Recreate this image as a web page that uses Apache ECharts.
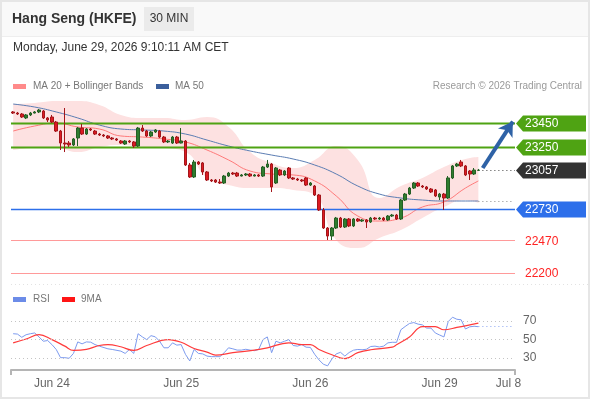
<!DOCTYPE html>
<html><head><meta charset="utf-8">
<script src="https://cdn.jsdelivr.net/npm/echarts@6/dist/echarts.min.js"></script>
<style>html,body{margin:0;padding:0;background:#fff}#c{width:590px;height:400px}</style>
</head><body><div id="c"></div>
<script>
// ---- data ----
// candles: [open, close, low, high], one per 30-min bar
const candles = [
[23542,23533,23525,23550],[23533,23525,23517,23542],[23525,23500,23492,23533],[23492,23517,23483,23525],
[23517,23533,23508,23542],[23533,23542,23530,23550],[23542,23558,23533,23567],[23550,23492,23483,23558],
[23492,23475,23458,23500],[23500,23458,23450,23517],[23458,23383,23375,23467],[23383,23283,23225,23392],
[23283,23275,23208,23575],[23283,23267,23250,23300],[23267,23317,23258,23325],[23325,23408,23258,23417],
[23408,23358,23350,23442],[23358,23400,23350,23408],[23400,23392,23383,23408],[23383,23358,23350,23392],
[23358,23350,23342,23367],[23350,23342,23333,23358],[23342,23325,23317,23350],[23325,23317,23308,23333],
[23317,23308,23300,23325],[23300,23283,23275,23308],[23275,23300,23267,23308],[23300,23292,23283,23308],
[23292,23258,23242,23300],[23258,23408,23250,23417],[23408,23383,23375,23433],[23383,23342,23333,23392],
[23342,23375,23333,23383],[23375,23392,23367,23400],[23383,23333,23325,23392],[23333,23292,23283,23342],
[23292,23300,23283,23308],[23283,23333,23275,23342],[23333,23283,23275,23342],[23283,23300,23280,23408],
[23300,23100,23092,23308],[23100,23000,22992,23117],[23000,23125,22992,23142],[23125,23108,23100,23133],
[23117,23042,23017,23125],[23042,22975,22967,23050],[22975,22967,22958,22983],[22975,22958,22950,22983],
[22958,22950,22942,22983],[22950,23008,22942,23017],[23008,23033,23000,23042],[23033,23025,23017,23042],
[23033,23008,23000,23042],[23008,23017,23005,23025],[23017,23025,23008,23033],[23025,23008,23000,23033],
[23008,23017,23005,23025],[23017,23008,23000,23025],[23008,23083,23000,23092],[23083,23108,23075,23142],
[23108,22917,22875,23117],[22950,23075,22942,23083],[23058,23017,23008,23067],[23017,23050,23008,23058],
[23075,22992,22983,23083],[22992,22983,22975,23000],[22983,22975,22967,22992],[22975,22967,22958,22983],
[22992,22933,22925,23000],[22933,22950,22925,22958],[22925,22850,22842,22933],[22850,22725,22717,22858],
[22725,22575,22567,22742],[22575,22508,22475,22583],[22508,22575,22467,22583],[22575,22658,22567,22667],
[22658,22583,22575,22667],[22583,22650,22575,22658],[22650,22592,22583,22658],[22592,22650,22583,22658],
[22650,22633,22625,22658],[22633,22642,22625,22650],[22642,22625,22575,22650],[22625,22658,22617,22667],
[22658,22650,22642,22667],[22650,22658,22642,22667],[22658,22642,22633,22667],[22642,22675,22633,22683],
[22675,22683,22667,22692],[22683,22650,22642,22692],[22650,22808,22642,22817],[22808,22858,22800,22867],
[22858,22908,22850,22917],[22908,22950,22900,22958],[22950,22925,22917,22958],[22925,22917,22908,22933],
[22917,22900,22892,22925],[22900,22875,22867,22908],[22892,22842,22833,22900],[22833,22858,22808,22867],
[22858,22825,22725,22867],[22825,22992,22817,23008],[22992,23092,22983,23100],[23092,23108,23083,23117],
[23125,23092,23083,23142],[23092,23017,23008,23100],[23050,23025,22975,23058],[23025,23058,23017,23075],
[23055,23057,23050,23067]
];
// indicator lines read at these bar indices
const lineIdx = [0,5,10,15,20,25,30,35,40,45,50,55,60,65,70,75,80,85,90,95,100,105,108];
const ma20    = [23383,23425,23450,23417,23400,23342,23333,23317,23292,23225,23142,23050,23025,23017,22967,22842,22675,22633,22658,22750,22792,22908,22967];
const bbUpper = [23608,23617,23633,23633,23600,23517,23492,23492,23475,23500,23417,23208,23117,23075,23142,23258,23142,22825,22925,22992,23083,23150,23167];
const bbLower = [23225,23242,23242,23208,23250,23267,23250,23242,23208,22992,22933,22908,22908,22892,22850,22475,22408,22492,22558,22658,22750,22808,22783];
const ma50    = [23608,23583,23542,23492,23433,23400,23392,23383,23358,23308,23258,23217,23183,23150,23100,23025,22925,22858,22825,22808,22800,22800,22800];

const rsiIdx = [0,1,2,3,4,5,6,7,8,9,10,11,12,13,14,15,16,17,18,19,20,22,23,25,26,27,28,29,30,31,32,33,34,35,36,37,38,39,40,41,42,43,44,45,46,47,48,49,50,51,52,53,54,55,56,57,58,59,60,61,62,63,64,65,66,67,68,69,70,71,72,73,74,75,76,77,78,79,80,81,82,83,84,85,86,87,88,89,90,91,92,93,94,95,96,97,98,99,100,101,102,103,104,105,106,107,108];
const rsiVal = [56.4,56,52.5,55.3,56.4,57.2,52.9,48.2,49,44.6,39.3,30.4,30.4,29.7,35,47.5,45.4,47.5,47.2,44.6,42.9,40,39.3,37.5,35,39.3,35,56.4,52.9,50,54.3,53,48.2,41.1,41.1,46.5,44,44.6,34,26.8,39.3,35,34.5,32.1,31.5,31.5,31.5,35.8,41.1,40,38.6,38.6,39.5,38.6,38,39.3,50,52.9,35.8,48.2,46.5,48.2,50,43.6,42.9,44.6,41.8,41.5,34,28,23.3,21.5,29,34.5,36.2,32.1,36,38.5,39.3,39,39.5,42.5,42.9,42,42.9,46.5,47.1,47,60.7,64.2,67.5,68.5,66.8,66,62.5,62.5,57.2,55,52.9,69.6,74.3,72.1,71.5,61.5,63.9,64.5,64];
const rsiMaIdx = [0,3,6,9,12,14,17,20,22,25,28,31,36,39,42,45,47,51,56,59,64,67,69,71,74,77,80,83,88,89,92,95,98,100,103,108];
const rsiMaVal = [46.5,50.7,55.3,50,42.9,38.2,39.3,43.6,44.6,42.2,38.2,43.6,50,47.1,40.4,36.4,33.2,35.8,38.6,41.1,46.5,44.6,44.6,39.3,33.6,29.4,35.8,39,41.8,44.3,52.9,64.2,64.2,60.7,63.2,67.9];

const levelValues = [23450, 23250, 23057, 22730, 22470, 22200];
const levelKinds  = ['res', 'res', 'last', 'sup', 'piv', 'piv'];
const targetValue = 23450;
const rsiLevels = [70, 50, 30];
const tickIndex  = [9, 39, 69, 99, 115];
const tickLabels = ['Jun 24', 'Jun 25', 'Jun 26', 'Jun 29', 'Jul 8'];
const slotCount = 117;

// ---- build ----
const lastIndex = candles.length - 1;
const cats = Array.from({length: slotCount}, (_, i) => 'b' + i);
const pairs = (idx, vals) => idx.map((x, i) => [x, vals[i]]);
const bandWidth = lineIdx.map((x, i) => [x, bbUpper[i] - bbLower[i]]);
const FONT = '"Liberation Sans", Arial, sans-serif';
const levelColor = {res: '#4fa313', last: '#333333', sup: '#2d6fea', piv: '#ff9494'};
const pivotValues = levelValues.filter((v, i) => levelKinds[i] === 'piv');

function renderLevel(params, api) {
  const v = api.value(1);
  const k = levelKinds[params.dataIndex];
  const cs = params.coordSys;
  const y = Math.round(api.coord([0, v])[1]) + 0.5;
  const x1 = cs.x, x2 = cs.x + cs.width;
  const col = levelColor[k];
  const ch = [];
  if (k === 'last') {
    const lx = api.coord([lastIndex, v])[0] + 4;
    ch.push({type: 'line', shape: {x1: lx, y1: y, x2: x2, y2: y}, style: {stroke: '#444', lineWidth: 1, lineDash: [1, 3]}});
  } else if (k !== 'piv') {
    ch.push({type: 'line', shape: {x1: x1, y1: y, x2: x2, y2: y},
      style: {stroke: col, lineWidth: k === 'res' ? 2 : 1.5}});
  }
  if (k !== 'piv') {
    ch.push({type: 'polygon', shape: {points: [[x2 + 1, y], [x2 + 8, y - 8], [x2 + 71, y - 8], [x2 + 71, y + 8], [x2 + 8, y + 8]]},
      style: {fill: col}});
  }
  ch.push({type: 'text', style: {text: String(v), x: x2 + 10, y: y, verticalAlign: 'middle', textVerticalAlign: 'middle',
    fill: k === 'piv' ? '#ff2323' : '#ffffff', font: '12px ' + FONT}});
  return {type: 'group', children: ch};
}

const chart = echarts.init(document.getElementById('c'), null, {renderer: 'canvas'});
chart.setOption({
  animation: false,
  backgroundColor: '#ffffff',
  textStyle: {fontFamily: FONT},
  grid: [
    {left: 11, right: 75, top: 99, height: 186},
    {left: 11, right: 75, top: 300, height: 70}
  ],
  xAxis: [
    {type: 'category', gridIndex: 0, data: cats, boundaryGap: true, show: false},
    {type: 'category', gridIndex: 1, data: cats, boundaryGap: true,
      axisLine: {lineStyle: {color: '#b5b5b5', width: 2}},
      axisTick: {show: true, interval: (i) => i === 0, length: 5, lineStyle: {color: '#b5b5b5', width: 2}},
      axisLabel: {interval: (i) => tickIndex.indexOf(i) >= 0,
        formatter: (v, i) => { const k = tickIndex.indexOf(i); return k >= 0 ? tickLabels[k] : ''; },
        color: '#666', fontSize: 12, margin: 8, fontFamily: FONT},
      splitLine: {show: false}}
  ],
  yAxis: [
    {type: 'value', gridIndex: 0, min: 22100, max: 23650, show: false},
    {type: 'value', gridIndex: 1, min: 17, max: 93, show: false}
  ],
  graphic: [
    {type: 'rect', shape: {x: 0, y: 0, width: 590, height: 36}, style: {fill: '#f9f9f9'}, z: -10},
    {type: 'line', shape: {x1: 0, y1: 36.5, x2: 590, y2: 36.5}, style: {stroke: '#eeeeee', lineWidth: 1}, z: -9},
    {type: 'rect', shape: {x: 1, y: 1, width: 588, height: 397}, style: {fill: null, stroke: '#e6e6e6', lineWidth: 2}, z: 100},
    {type: 'text', x: 12, y: 19, style: {text: 'Hang Seng (HKFE)', font: 'bold 14px ' + FONT, fill: '#333', verticalAlign: 'middle'}},
    {type: 'rect', shape: {x: 144, y: 7, width: 50, height: 24}, style: {fill: '#ebebeb'}},
    {type: 'text', x: 169, y: 19, style: {text: '30 MIN', font: '12px ' + FONT, fill: '#333', align: 'center', verticalAlign: 'middle'}},
    {type: 'text', x: 13, y: 48, style: {text: 'Monday, June 29, 2026 9:10:11 AM CET', font: '12px ' + FONT, fill: '#333', verticalAlign: 'middle'}},
    {type: 'rect', shape: {x: 13, y: 84, width: 13, height: 5}, style: {fill: '#ff8a8a'}},
    {type: 'text', x: 33, y: 86, style: {text: 'MA 20 + Bollinger Bands', font: '10px ' + FONT, fill: '#777', verticalAlign: 'middle'}},
    {type: 'rect', shape: {x: 156, y: 84, width: 13, height: 5}, style: {fill: '#3b5f9c'}},
    {type: 'text', x: 175, y: 86, style: {text: 'MA 50', font: '10px ' + FONT, fill: '#777', verticalAlign: 'middle'}},
    {type: 'text', x: 582, y: 86, style: {text: 'Research \u00a9 2026 Trading Central', font: '10px ' + FONT, fill: '#9a9a9a', align: 'right', verticalAlign: 'middle'}},
    {type: 'line', shape: {x1: 11, y1: 284.5, x2: 588, y2: 284.5}, style: {stroke: '#e2e2e2', lineWidth: 1, lineDash: [1, 3]}},
    {type: 'rect', shape: {x: 13, y: 297, width: 13, height: 5}, style: {fill: '#6c8ce8'}},
    {type: 'text', x: 33, y: 299, style: {text: 'RSI', font: '10px ' + FONT, fill: '#777', verticalAlign: 'middle'}},
    {type: 'rect', shape: {x: 62, y: 297, width: 13, height: 5}, style: {fill: '#ff1515'}},
    {type: 'text', x: 81, y: 299, style: {text: '9MA', font: '10px ' + FONT, fill: '#777', verticalAlign: 'middle'}}
  ],
  series: [
    {name: 'bbLow', type: 'line', xAxisIndex: 0, yAxisIndex: 0, data: pairs(lineIdx, bbLower), stack: 'bb',
      smooth: 0.5, symbol: 'none', lineStyle: {width: 0, opacity: 0}, silent: true, z: 1},
    {name: 'bbBand', type: 'line', xAxisIndex: 0, yAxisIndex: 0, data: bandWidth, stack: 'bb',
      smooth: 0.5, symbol: 'none', lineStyle: {width: 0, opacity: 0}, areaStyle: {color: '#fde1e1', opacity: 1}, silent: true, z: 1,
      markLine: {silent: true, symbol: 'none', label: {show: false},
        lineStyle: {color: '#ff9a9a', width: 1, type: 'solid', opacity: 1},
        emphasis: {disabled: true},
        data: pivotValues.map(v => ({yAxis: v}))}},
    {name: 'MA 50', type: 'line', xAxisIndex: 0, yAxisIndex: 0, data: pairs(lineIdx, ma50), smooth: 0.5, symbol: 'none',
      lineStyle: {color: '#5b7db3', width: 1}, z: 2,
      markLine: {silent: true, symbol: 'none', label: {show: false}, lineStyle: {color: '#8a8a8a', width: 1, type: [1, 3]},
        data: [[{coord: [lastIndex, ma50[ma50.length - 1]]}, {coord: [slotCount - 1, ma50[ma50.length - 1]]}]]}},
    {name: 'MA 20', type: 'line', xAxisIndex: 0, yAxisIndex: 0, data: pairs(lineIdx, ma20), smooth: 0.5, symbol: 'none',
      lineStyle: {color: '#ff7a7a', width: 1}, z: 2},
    {name: 'levels', type: 'custom', xAxisIndex: 0, yAxisIndex: 0, data: levelValues.map(v => [0, v]),
      encode: {x: 0, y: 1}, renderItem: renderLevel, clip: false, silent: true, z: 3},
    {name: 'HSI', type: 'candlestick', xAxisIndex: 0, yAxisIndex: 0, data: candles, barWidth: 3, z: 4,
      itemStyle: {color: '#2f7d2f', color0: '#dd1b22', borderColor: '#255f25', borderColor0: '#a3161b', borderWidth: 1},
      markLine: {silent: true, symbol: ['none', 'arrow'], symbolSize: [13, 14], label: {show: false},
        lineStyle: {color: '#2e62a6', width: 4, type: 'solid'},
        data: [[{coord: [lastIndex + 1, levelValues[2] + 18]}, {coord: [slotCount - 1, targetValue + 12]}]]}},
    {name: 'RSI', type: 'line', xAxisIndex: 1, yAxisIndex: 1, data: pairs(rsiIdx, rsiVal), symbol: 'none',
      lineStyle: {color: '#7d9bef', width: 1}, z: 3,
      markLine: {silent: true, symbol: 'none',
        data: rsiLevels.map(v => ({yAxis: v, lineStyle: {color: '#c4c4c4', width: 1, type: [1, 3]},
          label: {show: true, position: 'end', distance: 8, formatter: String(v), color: '#666', fontSize: 12, fontFamily: FONT}}))
          .concat([[{coord: [lastIndex, rsiVal[rsiVal.length - 1]], lineStyle: {color: '#8aa5f2', width: 1, type: [1, 3]}, label: {show: false}},
                    {coord: [slotCount - 1, rsiVal[rsiVal.length - 1]]}]])}},
    {name: '9MA', type: 'line', xAxisIndex: 1, yAxisIndex: 1, data: pairs(rsiMaIdx, rsiMaVal), smooth: 0.4, symbol: 'none',
      lineStyle: {color: '#ff3b3b', width: 1.2}, z: 3}
  ]
});
</script></body></html>
